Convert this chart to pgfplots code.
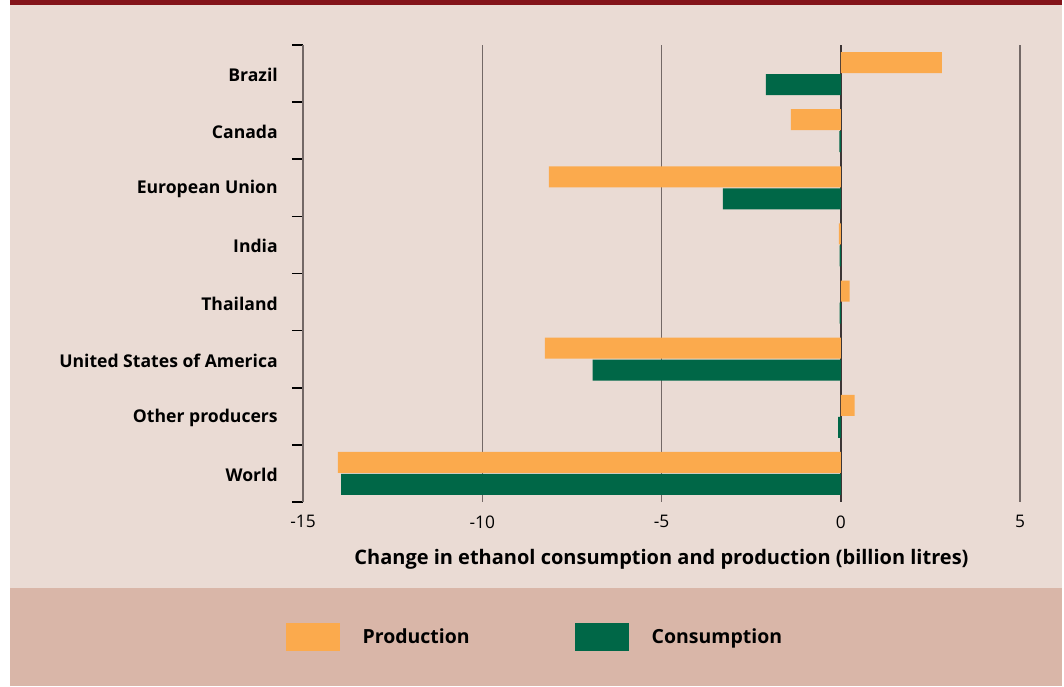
\documentclass[border=0pt]{standalone}
\usepackage{pgfplots}
\pgfplotsset{compat=1.18}
\usepackage{fontspec}
\setmainfont{Open Sans}
\definecolor{bgmain}{RGB}{234,219,212}
\definecolor{bgleg}{RGB}{217,182,168}
\definecolor{topred}{RGB}{132,20,26}
\definecolor{prodc}{RGB}{251,170,77}
\definecolor{consc}{RGB}{0,103,71}
\definecolor{gridc}{RGB}{115,104,102}
\definecolor{zeroc}{RGB}{61,53,53}

\pgfplotstableread{
y val
0 2.82
1 -1.39
2 -8.14
3 -0.05
4 0.25
5 -8.25
6 0.39
7 -14.03
}\prodtab
\pgfplotstableread{
y val
0 -2.09
1 -0.04
2 -3.29
3 -0.03
4 -0.03
5 -6.92
6 -0.07
7 -13.94
}\constab

\begin{document}
\begin{tikzpicture}[x=0.75pt,y=0.75pt]
% background (pixel units, y up)
\fill[white] (0,0) rectangle (1064,686);
\fill[bgmain] (10,98) rectangle (1062,681);
\fill[bgleg] (10,0) rectangle (1062,98);
\fill[topred] (10,681) rectangle (1062,686);
\begin{axis}[
  at={(227.25pt,138pt)}, anchor=south west,
  scale only axis, width=537.75pt, height=342.75pt,
  xmin=-15, xmax=5, ymin=-0.5, ymax=7.5, y dir=reverse,
  axis lines*=left,
  x axis line style={draw=none},
  y axis line style={draw=gridc, line width=1.1pt},
  xtick={-15,-10,-5,0,5},
  xticklabels={-15,-10,-5,0,5},
  major x tick style={draw=none},
  xmajorgrids, grid style={draw=gridc, line width=1.1pt},
  extra x ticks={0}, extra x tick labels={},
  extra x tick style={grid style={draw=zeroc, line width=1.6pt}, major tick length=0pt},
  ytick={0,...,7},
  yticklabels={Brazil,Canada,European Union,India,Thailand,United States of America,Other producers,World},
  major y tick style={draw=none}, major tick length=0pt,
  minor ytick={-0.5,0.5,...,7.5},
  minor tick length=8.25pt, tick align=outside,
  minor y tick style={draw=black, line width=1.3pt},
  yticklabel style={font=\bfseries\fontsize{13.2}{15}\selectfont, inner sep=0pt, anchor=east, xshift=-18.75pt, yshift=-1pt},
  xticklabel style={font=\fontsize{13}{15}\selectfont, inner sep=0pt, anchor=north, yshift=-10pt},
  xlabel={Change in ethanol consumption and production (billion litres)},
  xlabel style={font=\bfseries\fontsize{15}{17}\selectfont, inner sep=0pt, anchor=north, at={(axis description cs:0.5,0)}, yshift=-35.5pt},
  xbar, bar width=15.75pt,
  legend columns=2,
  legend style={at={(axis description cs:0.322,-0.295)}, anchor=center, draw=none, fill=none,
    font=\bfseries\fontsize{14.6}{17}\selectfont,
    /tikz/every odd column/.append style={column sep=17.25pt},
    /tikz/every even column/.append style={column sep=78.75pt},
    nodes={inner sep=0pt}},
  legend image code/.code={\fill[#1] (0pt,-10.5pt) rectangle (40.5pt,10.5pt);},
]
\addplot[draw=none, fill=prodc, bar shift=8.25pt] table[x=val,y=y] {\prodtab};
\addlegendentry{Production}
\addplot[draw=none, fill=consc, bar shift=-8.25pt] table[x=val,y=y] {\constab};
\addlegendentry{Consumption}
\end{axis}
\end{tikzpicture}
\end{document}
